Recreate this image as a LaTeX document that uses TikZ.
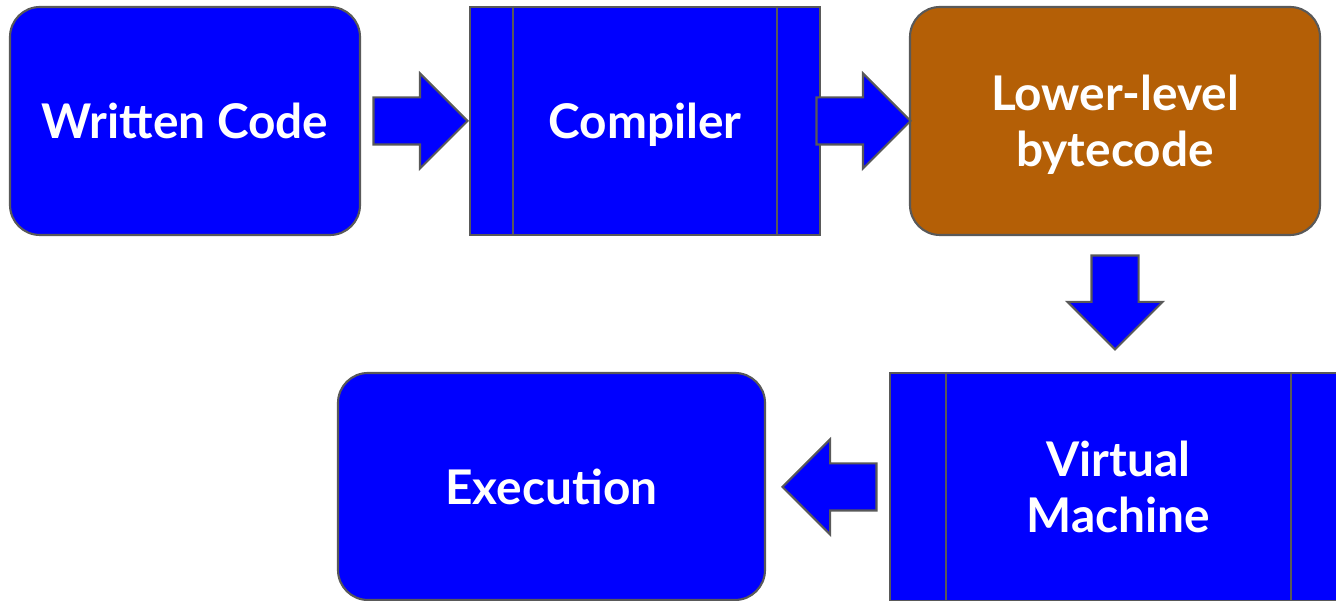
\documentclass[tikz,border=0pt]{standalone}
\usepackage{fontspec}
\setmainfont{Lato}
\usetikzlibrary{shapes.arrows}
\definecolor{boxblue}{HTML}{0000FF}
\definecolor{bytebrown}{HTML}{B45F06}
\definecolor{edgegray}{HTML}{595959}
\tikzset{
  box/.style={draw=edgegray,fill=#1,line width=0.6pt,text=white,
    font=\fontsize{13.6}{16}\selectfont\bfseries,align=center,inner sep=0pt,
    text depth=0pt},
  round box/.style={box=#1,rounded corners=0.3cm},
  blk arrow/.style={single arrow,draw=edgegray,fill=boxblue,line width=0.6pt,
    minimum height=0.94cm,single arrow head extend=0.24cm,
    inner xsep=0pt,inner ysep=0.225cm,anchor=tip},
}

\begin{document}
\begin{tikzpicture}
  \useasboundingbox (0,0) rectangle (13.36,6.01);
  \clip (0,0) rectangle (13.36,6.01);
  % top row
  \node[round box=boxblue,minimum width=3.5cm,minimum height=2.28cm] (code) at (1.85,4.80) {Written Code};
  \node[box=boxblue,minimum width=3.5cm,minimum height=2.28cm] (comp) at (6.45,4.80) {Compiler};
  \node[round box=bytebrown,minimum width=4.1cm,minimum height=2.28cm] (byte) at (11.15,4.80) {Lower-level\\bytecode};
  % bottom row
  \node[box=boxblue,minimum width=4.57cm,minimum height=2.28cm] (vm) at (11.185,1.14) {Virtual\\Machine};
  \node[round box=boxblue,minimum width=4.27cm,minimum height=2.27cm] (exec) at (5.515,1.145) {Execution};
  % side bars of the process boxes
  \draw[edgegray,line width=0.6pt] ([xshift=0.44cm]comp.north west) -- ([xshift=0.44cm]comp.south west);
  \draw[edgegray,line width=0.6pt] ([xshift=-0.44cm]comp.north east) -- ([xshift=-0.44cm]comp.south east);
  \draw[edgegray,line width=0.6pt] ([xshift=0.57cm]vm.north west) -- ([xshift=0.57cm]vm.south west);
  \draw[edgegray,line width=0.6pt] ([xshift=-0.57cm]vm.north east) -- ([xshift=-0.57cm]vm.south east);
  % block arrows, placed by their tips
  \node[blk arrow] (code2comp) at (4.69,4.80) {};
  \node[blk arrow] (comp2byte) at (9.12,4.80) {};
  \node[blk arrow,rotate=270] (byte2vm) at (11.15,2.50) {};
  \node[blk arrow,rotate=180] (vm2exec) at (7.81,1.14) {};
\end{tikzpicture}
\end{document}
